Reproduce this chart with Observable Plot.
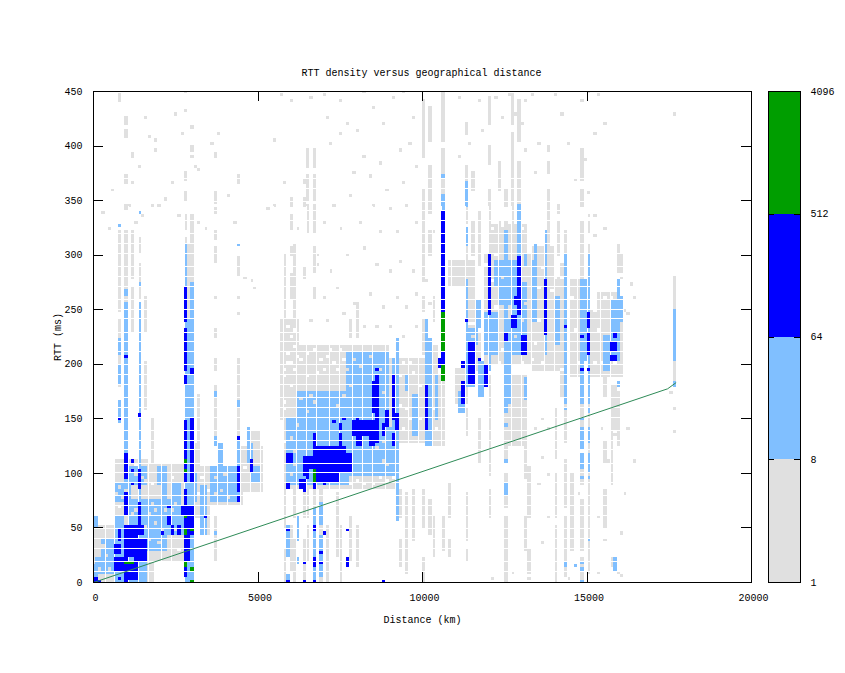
<!DOCTYPE html>
<html><head><meta charset="utf-8">
<script src="https://cdn.jsdelivr.net/npm/d3@7"></script>
<script src="https://cdn.jsdelivr.net/npm/@observablehq/plot@0.6"></script>
<style>
html,body{margin:0;padding:0;background:#fff}
#c{position:relative;width:845px;height:673px}
#c svg{position:absolute;left:0;top:0;background:transparent}
</style></head><body><div id="c"></div>
<script>
const chartTitle="RTT density versus geographical distance";
const xLabel="Distance (km)", yLabel="RTT (ms)";
const xTicks=[0,5000,10000,15000,20000];
const yTicks=[0,50,100,150,200,250,300,350,400,450];
const barLevels=[1,8,64,512,4096];
const barColors=["#e0e0e0","#80bfff","#0000ff","#009e00"];
const fitKm=[0,17450,17700], fitMs=[0,177.5,183];

// all cell lists: km of first/last column, ms of lowest/highest row
const greyBlocks=[
[0,600,0,50],[700,1800,0,112],[1800,2700,20,108],[1600,1800,0,20],[2800,3000,0,125],[3100,3200,60,125],[3200,4500,72,105],[3300,3500,45,72],[4450,5100,85,122],[4700,5000,122,138],
[5750,9100,88,205],[6000,8900,205,215],[5700,6200,150,240],[9200,10000,130,205],[10100,10500,125,190],[10200,10400,190,215],
[11000,11300,165,195],[11300,11700,195,235],[10800,11200,272,295],[11300,11500,240,295],[11900,13200,200,300],[12100,13100,300,328],[13300,14100,195,280],[13300,13900,280,305],[14200,14300,170,290],[14500,14750,190,245],[14450,14800,245,275],[15100,15950,190,250],[15300,15900,250,265],[12500,13100,125,190]
];
const greyColumns=[
[800,250,320,441,446,180,240],[1000,420,425,409,413,367,372,343,345,160,320],[1200,390,392,280,320,230,270],[1400,302,315,260,290,160,230],[1600,230,262,160,200],[1800,345,345,110,150],
[2800,449,449,433,433,370,375,350,358,324,335,250,315],[3000,400,400,390,390,324,335,300,320,250,300],[2900,240,310],[3200,125,170],[3700,390,392,348,357,339,343,315,320,293,305,262,262,225,232,195,205,125,180,20,60],[4400,365,372,282,290,293,296,262,262,247,247,195,205,160,195,125,160],
[5800,240,300,50,85,0,30],[5950,345,350,325,335,300,305,272,282,262,270,12,50],[6100,290,310,240,290,60,85,0,40],[6350,370,370,365,365,345,350,280,288,60,85,0,40],[6500,380,395,350,372,320,345,60,85,20,50],[6700,380,395,350,372,320,345,285,305,260,270,60,85,0,50],[6900,0,85],[7100,0,50],[7350,25,80],[7500,0,50],[7800,20,60,225,240],[8000,15,50,225,255],
[9300,15,40,60,85],[9500,10,80],[9700,40,85],[10000,50,85,0,20,210,240,250,262,275,360,390,440],[10200,300,320,340,380,405,435,45,75],[10300,25,60,240,262],[10600,250,335,340,395,405,450,125,186,30,60],[10800,60,90,25,40],
[11300,410,420,330,380,300,325,270,300,135,160,40,80,20,30],[11500,360,375,300,330],[11700,290,340,110,150],[12000,300,360,385,400,420,445,100,190,60,85],[12300,360,385,300,330],[12500,110,190,70,100,0,60,300,330,345,360],[12700,330,410,420,447],[12900,345,385,405,440],[13100,30,60,95,190,300,325],[13200,60,105,10,30],[14000,0,50,60,100,115,160],[14300,5,60,70,110,130,175,190,300,300,320],[14500,30,100],[14800,0,20,30,75,90,105,125,180,190,330,345,360,370,395],[15000,10,180,190,310,320,330],[15500,50,85,110,130,170,190],[15700,15,20,90,180],[15800,140,180],[15900,125,175,270,275,285,310],[17600,185,280,430,430],[13800,305,360,395,400,375,385],[14100,300,330,340,345],[16000,285,300]
];
const greyDots=[
[1200,391],[1600,425],[1700,409],[1900,406],[1900,395],[1400,380],[1200,367],[2000,345],[1500,335],[1300,330],[600,359],[2400,365],[2200,350],[2600,335],[3100,380],[3200,378],[3600,402],[3800,411],[3000,418],[3000,396],[2700,412],[2500,430],[3200,330],[3400,325],[1100,345],[300,340],[500,325],[4100,355],[4300,330],[4600,279],[4800,276],[4900,270],[5500,345],[5300,342],[6000,441],[6600,444],[5700,447],[5500,405],[5800,366],[6200,324],[6800,300],
[7000,447],[7500,441],[7100,426],[7700,420],[7500,411],[8000,414],[8200,450],[8500,435],[8800,420],[9100,444],[9400,450],[9700,426],[7200,402],[8200,390],[8700,384],[9300,396],[9600,402],[7900,375],[8400,372],[8900,360],[9400,366],[9800,381],[7300,345],[7800,354],[8500,345],[9000,342],[9500,345],[7000,330],[7500,324],[8100,330],[8700,321],[9200,321],[9800,330],[6800,291],[7200,285],[7700,300],[8200,306],[8600,291],[9000,285],[9300,294],[9700,285],[7000,261],[7400,270],[7900,255],[8400,264],[8800,252],[9200,261],[9500,252],[9800,264],[6600,240],[7100,240],[7600,246],[8200,234],[8600,234],[9000,234],[9400,225],[9800,234],[10100,276],[10200,255],[10300,321],
[11100,444],[11400,402],[11100,390],[11700,441],[11800,414],[12200,444],[12400,426],[12600,447],[13000,420],[13100,441],[12800,429],[13300,447],[13500,402],[13100,396],[13400,375],[13800,339],[14000,447],[14200,429],[14400,402],[14600,369],[14800,441],[15000,450],[15300,447],[15500,420],[16100,249],[16200,246],[16000,279],[16300,273],[16400,261],[15500,324],[15200,318],[14900,387],[15200,336],[15000,336],[17600,138],[17600,159],[15000,357],[15200,411],
[13600,150],[13800,141],[14000,150],[13600,114],[13800,99],[15400,141],[15600,111],[16200,141],[16400,111],[16100,81],[15800,135],[17500,174],[12800,171],[12900,159],[13400,141],[13500,90],[13600,36],[13800,60],[14700,81],[15300,60],[15500,39],[16000,45],[15900,9],[15300,9],[16000,6],[12700,9],[13200,3],[14400,3],[12100,3]
];
const emptyCells=[
[700,6],[1700,111],[1800,90],[1900,75],[2000,60],[2100,45],[2200,30],[2300,75],[2400,96],[2500,60],[2600,30],[1500,6],[1600,45],[1500,102],[900,90],[800,69],[1300,108],[3200,81],[3300,96],[3500,84],[3700,75],[3800,96],[3900,81],[4100,102],[4200,84],[4600,105],[4800,93],
[5700,102],[5800,129],[5800,159],[5800,189],[5900,210],[6000,180],[6000,201],[6100,216],[6300,204],[6500,189],[6700,213],[6900,204],[7000,195],[7200,213],[7400,195],[7600,204],[9000,102],[9100,96],[8900,93],[8700,96],[8500,90],[8400,102],[8200,90],[8000,93],[7800,90],[9300,189],[9400,201],[9500,159],[9600,201],[9800,141],[9900,180],[10300,159],[10400,141],
[6000,225],[5900,235],[6100,230],[5800,165],[5800,195],[5900,200],[6100,195],[6200,207],[6500,210],[6800,192],[7100,207],[7300,201],[7500,213],[9500,180],[9600,150],[9800,171],[9900,150],[9400,141],[9300,162],[9700,192],
[11700,201],[11700,231],[11400,225],[12100,276],[12200,252],[12300,201],[12600,210],[12700,195],[13300,204],[13500,240],[13600,201],[14200,195],[14200,279],[14500,261],[14700,279],[14600,231],[14700,201],[15200,201],[15200,249],[15300,231],[15400,201],[15500,261],[15700,261],[15800,201],[11900,291],[12100,324],[12200,300],[12400,327],[13000,324],[13200,303],[13700,303],[13900,267],[14000,279],[13500,270],[13600,288],[13400,219],[12000,270],[11900,234],[12400,213],[13000,201],[15600,210]
];

const lightBlocks=[
[0,100,0,15],[100,600,8,22],[300,600,23,38],[0,100,52,60],[650,1300,0,30],[1300,1640,0,25],[650,900,30,60],[1100,2200,30,45],[1100,2700,45,60],[1100,1950,60,75],[2050,2640,60,75],[650,1120,75,90],[2050,2240,75,90],[2350,2640,75,90],[950,1640,90,104],[1950,2240,90,104],
[2800,3000,0,240],[3100,3100,75,100],[3300,3400,45,87],[3600,4300,76,104],[3800,3900,105,125],[4700,4800,110,125],[4800,5000,93,104],
[5900,7700,90,150],[6200,7700,150,175],[7700,8900,140,210],[7700,8600,100,140],[8600,9100,100,140],[9100,9100,140,205],[9500,9500,178,188],[9700,9800,136,172],[10100,10200,126,221],[10400,10400,150,188],
[11300,11500,180,232],[11900,12200,210,247],[12200,12900,272,293],[12700,13100,210,272],[12300,12900,255,272],[13300,13400,240,295],[14000,14100,220,261],[14800,15000,205,275],[15500,15600,196,226],[15700,15900,203,258],[11600,11700,235,258],[14300,14300,185,300],[11100,11200,155,175],[11700,11800,170,200],[12500,12600,165,240]
];
const lightColumns=[
[800,148,165,183,197,211,222,327,327],[1000,100,255,264,266],[1400,0,255,272,272,340,340],[2800,240,308],[3000,240,272],[3700,127,131,85,104],[4400,162,166,105,133,78,100,310,310],[4700,128,140],[6200,40,60,17,20],[6900,54,72,5,41],[6700,0,65],[5900,0,5,25,50],[9200,57,221],[9100,120,205],[10100,221,221,126,240],
[11300,310,325,345,365,220,275],[11600,220,237],[12000,195,299],[12500,165,320],[12900,240,345],[13700,210,320],[14300,166,300],[14800,166,275],[15000,166,275,275,300],[13100,290,300],[13400,295,310],[15900,258,275],[16000,240,262],[10600,339,351,355,355,371,371],[12500,157,185,145,145,110,110,80,90],[13100,168,185],[14300,158,158,168,180,17,17,14,14],[14800,168,180,150,150,130,140,122,126,108,118,105,105,95,97,17,17,12,12,1,1],[15000,168,180,155,160,130,140,102,118,95,97,40,40],[15800,13,20],[15900,180,182],[17600,181,182],[17600,203,250],[14600,14,14],[3700,172,173,45,45]
];
const grayOverLight=[
[1500,96],[1600,93],[1300,99],[1900,66],[1700,63],[1300,66],[2400,66],[2500,72],[2200,66],[2300,54],[1600,51],[1900,54],[2100,48],[1700,39],[2000,36],[1500,33],[1200,63],[1800,72],[2600,51],[2500,48],[2400,48],[1000,84],[800,87],[700,81],[900,78],[3700,81],[3900,84],[4000,99],[4100,78],[3700,96],[300,33],[400,24],[200,12],[500,12],[6000,99],[6100,120],[6200,144],[6500,156],[6000,132],[6300,168],[6600,171],[6700,165],[7400,162],[7700,195],[7800,180],[7900,204],[8100,198],[8400,207],[8800,174],[8700,195],[7600,171],[6100,108],[8800,111],[8600,123],[8800,129],[8900,108],[13000,240],[13100,255],[12800,225],[12800,261],[12400,279],[11400,201],[11500,225]
];
const blueBlocks=[
[950,1280,23,42],[950,1250,2,17],[950,1200,45,52],[1330,1630,22,38],[1330,1530,45,52],[650,900,11,20],[700,800,28,32],[2700,3000,63,69],[2800,3000,45,62],[2800,2900,22,45],
[6800,7800,103,118],[6800,7100,93,105],[7200,7400,93,105],[6800,7550,116,124],[7860,8520,136,148],[7970,8120,127,135],[8370,8470,127,135],[5900,6000,110,118],[6250,6400,86,93],[6400,6500,100,113],[6600,6750,105,113],[11420,11480,183,218],[12700,12800,233,243],[13000,13100,211,224],[15700,15800,204,206]
];
const blueColumns=[
[1000,0,20,23,52,62,72,75,82,96,118,208,208],[800,150,150,3,3,38,48],[1400,55,60,62,72,94,101,88,90,154,154],[1200,111,111,102,102,90,90],[2300,69,69,54,60],[2100,45,45],[2400,45,50],[2600,45,50],
[2800,5,14,72,84,92,100,103,108,112,125,127,136,137,147,183,190,195,197,201,206,208,208,211,215,218,222,224,232,240,250,252,269],[3000,92,104,105,113,118,125,127,131,135,147,150,150,192,195,0,0],
[3400,60,60],[4400,131,131,84,104,74,78],[4800,103,110],
[5900,48,48,0,0],[6400,18,18,0,0],[6700,15,20,48,52,0,0],[6900,27,27,18,18],[7700,15,20,48,48],[8800,0,0],[7000,44,44],
[8600,130,188],[8500,156,182],[9100,150,190,126,135],[9200,142,153],[8900,144,156],[8800,136,144],[8000,149,149],[7300,148,148],[7600,150,150],[7500,140,145],[7500,125,135],[8600,194,194],[6700,118,135],[6400,85,90],[5900,87,90],[6700,87,93],[7000,90,92],[6500,95,100],[10100,142,180],
[10600,246,339],[10600,199,212],[10500,198,203],[11200,166,183],[11200,197,200],[11700,205,205],[12000,246,299],[11900,180,197],[12900,246,296],[12800,255,262],[13700,227,275],[14300,235,235],[15000,211,229,235,247,194,194],[14800,194,194,225,225],[15800,224,229],[15700,212,219],[15800,214,218],[12500,223,229],[11300,240,240]
];
const greenCells=[
[1000,1200,18,18],[2800,2800,111,111],[2800,2800,102,102],[2800,2800,60,60],[2800,2800,45,48],[2800,2800,15,18],[3000,3000,12,12],[3000,3000,0,0],[3000,3000,48,48],[6700,6700,93,102],
[10600,10600,240,245],[10600,10600,230,238],[10600,10600,220,229],[10600,10600,214,218],[10600,10600,186,197]
];
const originCells=[[0,100,0,3],[200,200,0,0]];
// thin white seams between cells, left where the pixel grid fell short
const seamKm=[350,650,1050,1350,1650,2050,2350,2750,3050,3350,3750,4050,4450,4750,5050,5450,5750,6150,6450,6750,7150,7450,7850,8150,8450,8850,9150,9550,9850,10250,10550,10850,11250,11550,11950,12250,12650,12950,13250,13650,13950,14350,14650,14950,15350,15650,16050];
const seamMs=[10.5,19.5,31.5,40.5,49.5,61.5,70.5,79.5,91.5,100.5,109.5,121.5,130.5,139.5,151.5,160.5,169.5,181.5,190.5,199.5,211.5,220.5,229.5,241.5,250.5,259.5,271.5,280.5,289.5,301.5,310.5,319.5,331.5,340.5,349.5,361.5,370.5];

const binStretch=1.004;
const sx=k=>Math.round(k/100)*100*binStretch, sy=m=>Math.round(m/3)*3;
const cell=(a,b,c,d)=>({x1:sx(a)-50,x2:sx(b)+50,y1:sy(c)-1.5,y2:sy(d)+1.5});
const blocks=(list)=>list.map(([a,b,c,d])=>cell(a,b,c,d));
const cols=(list)=>list.flatMap(([k,...r])=>{const o=[];for(let i=0;i<r.length;i+=2)o.push(cell(k,k,r[i],r[i+1]));return o;});
const dots=(list)=>list.map(([k,m])=>cell(k,k,m,m));
const cellMark=(data,fill)=>Plot.rect(data,{x1:"x1",x2:"x2",y1:"y1",y2:"y2",fill,clip:true,shapeRendering:"crispEdges"});

const fontCss="'Liberation Mono',monospace";
const main=Plot.plot({
  width:845,height:673,marginLeft:93,marginRight:94,marginTop:91,marginBottom:91,
  style:{fontFamily:fontCss,fontSize:"10px",color:"#000",background:"transparent"},
  x:{domain:[0,20000]},y:{domain:[0,450]},
  marks:[
    cellMark(blocks(greyBlocks),barColors[0]),
    cellMark(cols(greyColumns),barColors[0]),
    cellMark(dots(greyDots),barColors[0]),
    cellMark(dots(emptyCells),"#fff"),
    cellMark(blocks(lightBlocks),barColors[1]),
    cellMark(cols(lightColumns),barColors[1]),
    cellMark(dots(grayOverLight),barColors[0]),
    Plot.ruleX(seamKm.map(k=>k*binStretch),{y1:0,y2:345,stroke:"#fff",strokeWidth:1,shapeRendering:"crispEdges"}),
    cellMark(blocks(blueBlocks),barColors[2]),
    cellMark(cols(blueColumns),barColors[2]),
    cellMark(blocks(originCells),barColors[2]),
    cellMark(blocks(greenCells),barColors[3]),
    Plot.ruleY(seamMs,{x1:0,x2:16100,stroke:"#fff",strokeWidth:1,shapeRendering:"crispEdges"}),
    Plot.line(fitKm.map((k,i)=>[k,fitMs[i]]),{x:"0",y:"1",stroke:"#2e8b57",strokeWidth:1}),
    Plot.ruleX(xTicks,{y1:0,y2:9,stroke:"#000",shapeRendering:"crispEdges"}),
    Plot.ruleX(xTicks,{y1:441,y2:450,stroke:"#000",shapeRendering:"crispEdges"}),
    Plot.ruleY(yTicks,{x1:0,x2:300,stroke:"#000",shapeRendering:"crispEdges"}),
    Plot.ruleY(yTicks,{x1:19700,x2:20000,stroke:"#000",shapeRendering:"crispEdges"}),
    Plot.frame({stroke:"#000",shapeRendering:"crispEdges"}),
    Plot.axisX({ticks:xTicks,tickSize:0,tickPadding:11,dx:2,label:xLabel,labelAnchor:"center",labelArrow:"none",labelOffset:40,tickFormat:String,fill:"#000"}),
    Plot.axisY({ticks:yTicks,tickSize:0,tickPadding:11,label:yLabel,labelAnchor:"center",labelArrow:"none",labelOffset:40,tickFormat:String,fill:"#000"}),
    Plot.text([chartTitle],{frameAnchor:"top",dy:-23,dx:-1,fontSize:10,fill:"#000"})
  ]
});
const bands=barColors.map((c,i)=>({lo:barLevels[i],hi:barLevels[i+1],c}));
const bar=Plot.plot({
  width:845,height:673,marginLeft:768,marginRight:45,marginTop:91,marginBottom:91,
  style:{fontFamily:fontCss,fontSize:"10px",color:"#000",background:"transparent"},
  x:{domain:[0,1],axis:null},y:{type:"log",base:2,domain:[1,4096]},
  marks:[
    Plot.rect(bands,{x1:0,x2:1,y1:"lo",y2:"hi",fill:"c",shapeRendering:"crispEdges"}),
    Plot.ruleY(barLevels,{x1:0,x2:0.2,stroke:"#000",shapeRendering:"crispEdges"}),
    Plot.ruleY(barLevels,{x1:0.8,x2:1,stroke:"#000",shapeRendering:"crispEdges"}),
    Plot.frame({stroke:"#000",shapeRendering:"crispEdges"}),
    Plot.axisY({anchor:"right",ticks:barLevels,tickSize:0,tickPadding:10,label:null,tickFormat:String,fill:"#000"})
  ]
});
document.getElementById("c").append(main,bar);
</script></body></html>
